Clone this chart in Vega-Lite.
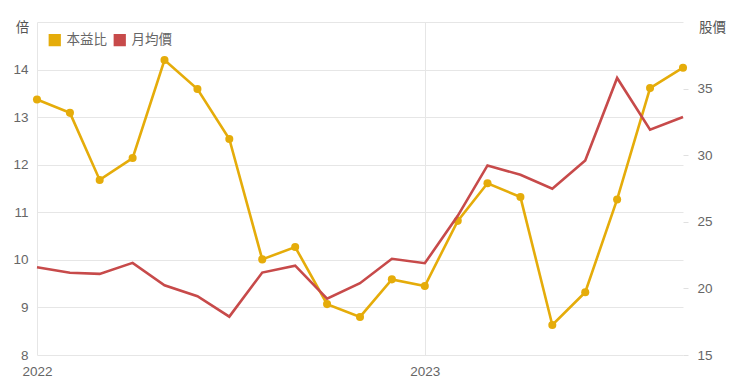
{
  "$schema": "https://vega.github.io/schema/vega-lite/v6.json",
  "width": 646,
  "height": 333,
  "autosize": {"type": "none"},
  "padding": {"left": 37, "top": 22, "right": 57, "bottom": 31},
  "background": "white",
  "config": {
    "view": {"stroke": null},
    "font": "Liberation Sans, Noto Sans CJK TC, sans-serif",
    "axis": {"labelFont": "Liberation Sans, Noto Sans CJK TC", "titleFont": "Noto Sans CJK TC", "labelFontSize": 13.5, "labelColor": "#666666", "gridColor": "#e6e6e6", "titleColor": "#555555", "titleFontSize": 13.5, "titleFontWeight": "normal"}
  },
  "data": {
    "values": [
      {"date": "2022-01-01", "pe": 13.37, "price": 21.59},
      {"date": "2022-02-01", "pe": 13.09, "price": 21.17},
      {"date": "2022-03-01", "pe": 11.68, "price": 21.09},
      {"date": "2022-04-01", "pe": 12.14, "price": 21.92},
      {"date": "2022-05-01", "pe": 14.2, "price": 20.24},
      {"date": "2022-06-01", "pe": 13.59, "price": 19.41},
      {"date": "2022-07-01", "pe": 12.54, "price": 17.88},
      {"date": "2022-08-01", "pe": 10.01, "price": 21.19},
      {"date": "2022-09-01", "pe": 10.27, "price": 21.71},
      {"date": "2022-10-01", "pe": 9.07, "price": 19.23},
      {"date": "2022-11-01", "pe": 8.8, "price": 20.39},
      {"date": "2022-12-01", "pe": 9.59, "price": 22.22},
      {"date": "2023-01-01", "pe": 9.45, "price": 21.89},
      {"date": "2023-02-01", "pe": 10.82, "price": 25.45},
      {"date": "2023-03-01", "pe": 11.61, "price": 29.23},
      {"date": "2023-04-01", "pe": 11.32, "price": 28.53},
      {"date": "2023-05-01", "pe": 8.63, "price": 27.48},
      {"date": "2023-06-01", "pe": 9.32, "price": 29.61},
      {"date": "2023-07-01", "pe": 11.27, "price": 35.8},
      {"date": "2023-08-01", "pe": 13.61, "price": 31.92},
      {"date": "2023-09-01", "pe": 14.04, "price": 32.87}
    ]
  },
  "encoding": {
    "x": {
      "field": "date", "type": "temporal", "title": null,
      "scale": {"domain": [{"year": 2022, "month": 1, "date": 1}, {"year": 2023, "month": 9, "date": 1}]},
      "axis": {"values": [{"year": 2022, "month": 1, "date": 1}, {"year": 2023, "month": 1, "date": 1}], "format": "%Y", "domain": false, "ticks": false, "tickSize": 0, "labelPadding": 9, "labelAlign": "center", "grid": true, "gridColor": "#e6e6e6", "labelFlush": false}
    }
  },
  "layer": [
    {
      "mark": {"type": "line", "strokeWidth": 2.6, "point": {"filled": true, "size": 65, "opacity": 1}},
      "encoding": {
        "y": {
          "field": "pe", "type": "quantitative",
          "scale": {"domain": [8, 15], "nice": false, "zero": false},
          "axis": {"orient": "left", "values": [8, 9, 10, 11, 12, 13, 14, 15], "labelExpr": "datum.value == 15 ? '' : datum.label", "domain": false, "ticks": false, "tickSize": 0, "labelPadding": 9, "grid": true, "title": "倍", "titleAngle": 0, "titleX": -15, "titleY": 5, "titleAlign": "center", "titleBaseline": "middle"}
        },
        "color": {
          "datum": "本益比",
          "scale": {"domain": ["本益比", "月均價"], "range": ["#E5AC0A", "#C74A4A"]},
          "legend": {"orient": "none", "legendX": 11, "legendY": 11, "direction": "horizontal", "title": null, "symbolType": "square", "symbolSize": 150, "symbolStrokeWidth": 0, "symbolOpacity": 1, "labelFontSize": 13.5, "labelColor": "#666666", "labelFont": "Noto Sans CJK TC", "columnPadding": 6, "labelOffset": 5, "padding": 0}
        }
      }
    },
    {
      "mark": {"type": "line", "strokeWidth": 2.6},
      "encoding": {
        "y": {
          "field": "price", "type": "quantitative",
          "scale": {"domain": [15, 40], "nice": false, "zero": false},
          "axis": {"orient": "right", "values": [15, 20, 25, 30, 35], "domain": false, "ticks": true, "tickSize": 5, "tickColor": "#e0e0e0", "labelPadding": 9, "grid": false, "title": "股價", "titleAngle": 0, "titleX": 29, "titleY": 5, "titleAlign": "center", "titleBaseline": "middle"}
        },
        "color": {"datum": "月均價"}
      }
    }
  ],
  "resolve": {"scale": {"y": "independent"}}
}
